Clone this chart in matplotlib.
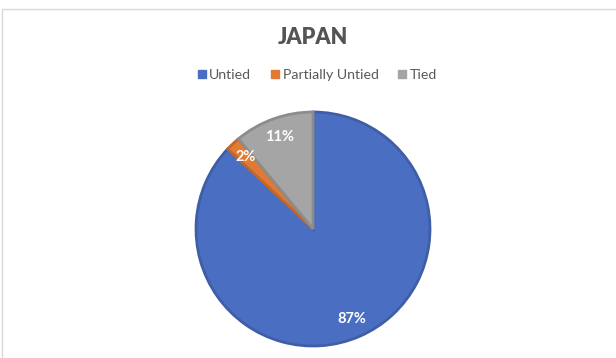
import matplotlib
matplotlib.use("Agg")
import matplotlib.pyplot as plt
from matplotlib.patches import Rectangle
from matplotlib.lines import Line2D
import matplotlib.colors as mcolors

categories = ["Untied", "Partially Untied", "Tied"]
shares = [87, 2, 11]
colors = ["#4A6FC2", "#E07A35", "#A5A5A5"]
title = "JAPAN"

plt.rcParams["font.family"] = ["Lato", "DejaVu Sans"]

W, H = 616, 358
fig = plt.figure(figsize=(W / 100, H / 100), dpi=100)

# chart-area border
fig.patches.append(Rectangle((2 / W, -0.05), 1.1, 1 - 9 / H + 0.05,
                             transform=fig.transFigure, fill=False,
                             edgecolor="#D9D9D9", linewidth=1.0))

R = 117
cx, cy = 313, 229
ax = fig.add_axes([(cx - R) / W, (H - cy - R) / H, 2 * R / W, 2 * R / H])

def darker(c, f=0.85):
    r, g, b = mcolors.to_rgb(c)
    return (r * f, g * f, b * f)

wedges, texts, autotexts = ax.pie(
    shares, colors=colors, startangle=90, counterclock=False,
    autopct=lambda p: f"{p:.0f}%", pctdistance=0.84, radius=1,
    textprops=dict(color="white", fontsize=10.5, fontweight="bold"))
for w, c in zip(wedges, colors):
    w.set_edgecolor(darker(c))
    w.set_linewidth(2.0)
    w.set_clip_on(False)
ax.set_xlim(-1, 1)
ax.set_ylim(-1, 1)
ax.set_aspect("equal")
ax.axis("off")

fig.text(cx / W, 1 - 37 / H, title, ha="center", va="center",
         fontsize=15.5, fontweight="heavy", color="#545454")

handles = [Line2D([], [], marker="s", linestyle="", markersize=6,
                  markerfacecolor=c, markeredgecolor=c) for c in colors]
fig.legend(handles, categories, loc="center", bbox_to_anchor=(316 / W, 1 - 75 / H),
           ncol=3, frameon=False, fontsize=10.2, labelcolor="#595959",
           handletextpad=0.1, columnspacing=1.2, handlelength=0.9)

fig.savefig("out.png", dpi=100, facecolor="white")
